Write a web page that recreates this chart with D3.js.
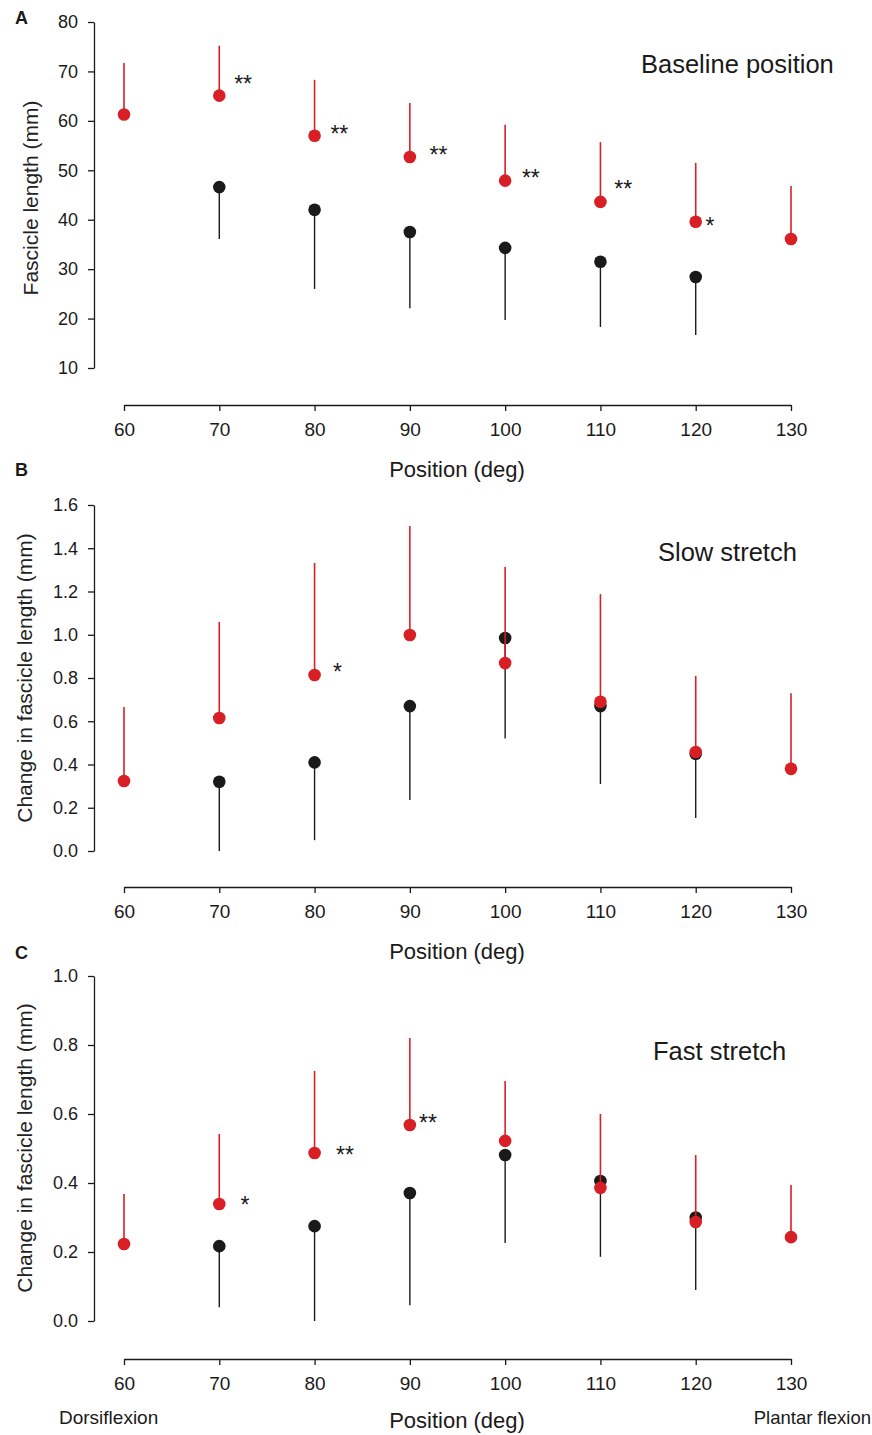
<!DOCTYPE html>
<html><head><meta charset="utf-8">
<script src="https://cdn.jsdelivr.net/npm/d3@7"></script>
<style>
body{margin:0;background:#fff;}
svg{display:block;font-family:"Liberation Sans",Arial,sans-serif;}
</style></head>
<body>
<svg id="chart" width="872" height="1435"></svg>
<script>
// ---- data ----
const positions = [60, 70, 80, 90, 100, 110, 120, 130];
const xTicks = [60, 70, 80, 90, 100, 110, 120, 130];

// Panel A: Baseline position (mm)
const aRedMean   = [61.3, 65.1, 57.0, 52.7, 47.9, 43.6, 39.6, 36.1];
const aRedSD     = [10.4, 10.1, 11.3, 10.9, 11.3, 12.1, 11.9, 10.7];
const aBlackMean = [null, 46.6, 42.0, 37.5, 34.3, 31.5, 28.4, null];
const aBlackSD   = [null, 10.5, 16.0, 15.4, 14.6, 13.2, 11.7, null];
const aYTicks    = [10, 20, 30, 40, 50, 60, 70, 80];
const aSigText   = ["**", "**", "**", "**", "**", "*"];
const aSigX      = [72.5, 82.6, 93.0, 102.7, 112.4, 121.5];
const aSigY      = [68.4, 58.4, 54.1, 49.4, 47.2, 39.8];

// Panel B: Slow stretch (mm)
const bRedMean   = [0.324, 0.615, 0.814, 0.999, 0.869, 0.690, 0.458, 0.380];
const bRedSD     = [0.342, 0.444, 0.518, 0.504, 0.444, 0.498, 0.352, 0.350];
const bBlackMean = [null, 0.320, 0.410, 0.670, 0.985, 0.670, 0.450, null];
const bBlackSD   = [null, 0.320, 0.360, 0.434, 0.465, 0.360, 0.297, null];
const bYTicks    = [0.0, 0.2, 0.4, 0.6, 0.8, 1.0, 1.2, 1.4, 1.6];
const bSigText   = ["*"];
const bSigX      = [82.4];
const bSigY      = [0.851];

// Panel C: Fast stretch (mm)
const cRedMean   = [0.223, 0.339, 0.487, 0.568, 0.522, 0.386, 0.287, 0.243];
const cRedSD     = [0.145, 0.203, 0.238, 0.252, 0.174, 0.214, 0.194, 0.151];
const cBlackMean = [null, 0.217, 0.275, 0.371, 0.481, 0.406, 0.300, null];
const cBlackSD   = [null, 0.177, 0.275, 0.325, 0.255, 0.220, 0.210, null];
const cYTicks    = [0.0, 0.2, 0.4, 0.6, 0.8, 1.0];
const cSigText   = ["*", "**", "**"];
const cSigX      = [72.7, 83.2, 91.9];
const cSigY      = [0.351, 0.496, 0.588];

// ---- drawing ----
const RED = "#d81f26", BLACK = "#1a1a1a";
const svg = d3.select("#chart");
const x = d3.scaleLinear().domain([60, 130]).range([124, 791]);

function panel(o) {
  const g = svg.append("g");
  const y = d3.scaleLinear().domain(o.yDomain).range(o.yRange);

  // y axis
  const ya = g.append("g").attr("transform", "translate(94,0)")
    .call(d3.axisLeft(y).tickValues(o.yTicks).tickFormat(o.fmt).tickSize(6).tickSizeOuter(0));
  ya.select(".domain").attr("stroke", BLACK).attr("stroke-width", 1.3);
  ya.selectAll(".tick line").attr("stroke", BLACK).attr("stroke-width", 1.3);
  ya.selectAll(".tick text").attr("font-size", 18).attr("fill", BLACK).attr("x", -16)
    .attr("font-family", "Liberation Sans, Arial, sans-serif");

  // x axis
  const xa = g.append("g").attr("transform", `translate(0,${o.xAxisY})`)
    .call(d3.axisBottom(x).tickValues(xTicks).tickFormat(d3.format("d")).tickSize(6).tickSizeOuter(0));
  xa.select(".domain").attr("stroke", BLACK).attr("stroke-width", 1.5);
  xa.selectAll(".tick line").attr("stroke", BLACK).attr("stroke-width", 1.3);
  xa.selectAll(".tick text").attr("font-size", 19).attr("fill", BLACK).attr("y", 18)
    .attr("font-family", "Liberation Sans, Arial, sans-serif");

  // x axis title
  g.append("text").attr("x", 457).attr("y", o.xTitleY)
    .attr("text-anchor", "middle").attr("font-size", 22).attr("fill", BLACK).text("Position (deg)");

  // y axis title
  g.append("text").attr("transform", `translate(${o.yLabelX},${o.yLabelY}) rotate(-90)`)
    .attr("text-anchor", "middle").attr("font-size", 21).attr("fill", "#222").text(o.yLabel);

  // panel letter
  g.append("text").attr("x", 15).attr("y", o.letterY).attr("font-size", 18).attr("font-weight", "bold")
    .attr("fill", BLACK).text(o.letter);

  // title
  g.append("text").attr("x", o.titleX).attr("y", o.titleY).attr("font-size", 25.5)
    .attr("fill", BLACK).text(o.title);

  const black = positions.map((p, i) => ({p, m: o.blackMean[i], sd: o.blackSD[i]})).filter(d => d.m != null);
  const red = positions.map((p, i) => ({p, m: o.redMean[i], sd: o.redSD[i]}));

  // black error bars (downward)
  g.selectAll(".bl").data(black).enter().append("line")
    .attr("x1", d => x(d.p)).attr("x2", d => x(d.p))
    .attr("y1", d => y(d.m)).attr("y2", d => y(d.m - d.sd))
    .attr("stroke", BLACK).attr("stroke-width", 1.4);
  g.selectAll(".bd").data(black).enter().append("circle")
    .attr("cx", d => x(d.p)).attr("cy", d => y(d.m)).attr("r", 6.3).attr("fill", BLACK);

  // red error bars (upward)
  g.selectAll(".rl").data(red).enter().append("line")
    .attr("x1", d => x(d.p)).attr("x2", d => x(d.p))
    .attr("y1", d => y(d.m)).attr("y2", d => y(d.m + d.sd))
    .attr("stroke", RED).attr("stroke-width", 1.6);
  g.selectAll(".rd").data(red).enter().append("circle")
    .attr("cx", d => x(d.p)).attr("cy", d => y(d.m)).attr("r", 6.3).attr("fill", RED);

  // significance markers
  g.selectAll(".sig").data(o.sigText).enter().append("text")
    .attr("x", (d, i) => x(o.sigX[i])).attr("y", (d, i) => y(o.sigY[i]) + 13)
    .attr("text-anchor", "middle").attr("font-size", 23).attr("fill", BLACK).text(d => d);
}

panel({
  letter: "A", letterY: 24, title: "Baseline position", titleX: 641, titleY: 73,
  yDomain: [10, 80], yRange: [368, 22], yTicks: aYTicks, fmt: d3.format("d"),
  xAxisY: 405, xTitleY: 477, yLabel: "Fascicle length (mm)", yLabelX: 38, yLabelY: 198,
  redMean: aRedMean, redSD: aRedSD, blackMean: aBlackMean, blackSD: aBlackSD,
  sigText: aSigText, sigX: aSigX, sigY: aSigY
});
panel({
  letter: "B", letterY: 476, title: "Slow stretch", titleX: 658, titleY: 561,
  yDomain: [0, 1.6], yRange: [851, 505], yTicks: bYTicks, fmt: d3.format(".1f"),
  xAxisY: 887, xTitleY: 959, yLabel: "Change in fascicle length (mm)", yLabelX: 32, yLabelY: 678,
  redMean: bRedMean, redSD: bRedSD, blackMean: bBlackMean, blackSD: bBlackSD,
  sigText: bSigText, sigX: bSigX, sigY: bSigY
});
panel({
  letter: "C", letterY: 959, title: "Fast stretch", titleX: 653, titleY: 1060,
  yDomain: [0, 1.0], yRange: [1321, 976], yTicks: cYTicks, fmt: d3.format(".1f"),
  xAxisY: 1359, xTitleY: 1428, yLabel: "Change in fascicle length (mm)", yLabelX: 32, yLabelY: 1148,
  redMean: cRedMean, redSD: cRedSD, blackMean: cBlackMean, blackSD: cBlackSD,
  sigText: cSigText, sigX: cSigX, sigY: cSigY
});

// direction labels
svg.append("text").attr("x", 59).attr("y", 1424).attr("font-size", 19)
  .attr("fill", BLACK).text("Dorsiflexion");
svg.append("text").attr("x", 871).attr("y", 1424).attr("font-size", 18.5)
  .attr("text-anchor", "end").attr("fill", BLACK).text("Plantar flexion");
</script>
</body></html>
